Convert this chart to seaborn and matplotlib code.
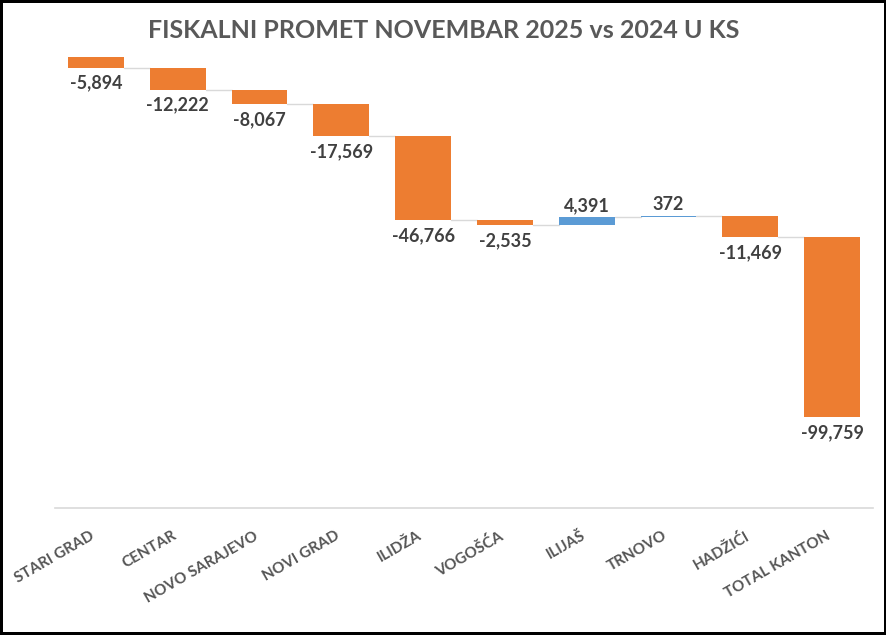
import numpy as np
import matplotlib.pyplot as plt
import matplotlib.transforms as mtransforms
import seaborn as sns

# Data: change vs previous year per municipality (waterfall)
categories = ['STARI GRAD', 'CENTAR', 'NOVO SARAJEVO', 'NOVI GRAD', 'ILIDŽA',
              'VOGOŠĆA', 'ILIJAŠ', 'TRNOVO', 'HADŽIĆI', 'TOTAL KANTON']
deltas = [-5894, -12222, -8067, -17569, -46766, -2535, 4391, 372, -11469, -99759]
value_labels = ['-5,894', '-12,222', '-8,067', '-17,569', '-46,766',
                '-2,535', '4,391', '372', '-11,469', '-99,759']

ORANGE = '#ED7D31'
BLUE = '#5B9BD5'
TEXT = '#404040'
GRID = '#D9D9D9'

sns.set_theme(style='white')
plt.rcParams['font.family'] = ['Lato', 'DejaVu Sans']

deltas = np.array(deltas)
ends = np.cumsum(deltas)
starts = ends - deltas
colors = [BLUE if d > 0 else ORANGE for d in deltas]

fig = plt.figure(figsize=(8.87, 6.35), dpi=100)
fig.patch.set_edgecolor('black')
fig.patch.set_linewidth(4)
ax = fig.add_axes([55 / 887, 127 / 635, 818 / 887, 451 / 635])

sns.barplot(x=categories, y=deltas, hue=categories, palette=colors,
            legend=False, width=0.68, saturation=1, ax=ax)

# shift each bar so it floats from its running start
for patch, s in zip(ax.patches, starts):
    patch.set_y(s)
    patch.set_linewidth(0)

# connector lines between bars
w = 0.68
for i in range(len(categories) - 1):
    ax.plot([i + w / 2, i + 1 - w / 2], [ends[i], ends[i]], color=GRID, lw=1, zorder=0)

# value labels
for i, (d, e) in enumerate(zip(deltas, ends)):
    up = d > 0
    ax.annotate(value_labels[i], (i, e), xytext=(0, 2 if up else -5),
                textcoords='offset points', ha='center',
                va='bottom' if up else 'top',
                fontsize=13, fontweight='bold', color=TEXT)

ax.set_ylim(-250000, 0)
ax.set_xlim(-0.5, len(categories) - 0.5)
ax.set_yticks([])
ax.set_xlabel('')
ax.set_ylabel('')
for side in ['top', 'left', 'right']:
    ax.spines[side].set_visible(False)
ax.spines['bottom'].set_color(GRID)
ax.spines['bottom'].set_linewidth(1.2)
ax.tick_params(axis='x', length=0, pad=15)
shift = mtransforms.ScaledTranslation(-6 / 100, 0, fig.dpi_scale_trans)
for lbl in ax.get_xticklabels():
    lbl.set_rotation(30)
    lbl.set_ha('right')
    lbl.set_rotation_mode('anchor')
    lbl.set_fontsize(11)
    lbl.set_fontweight('bold')
    lbl.set_color('#555555')
    lbl.set_transform(lbl.get_transform() + shift)

fig.text(0.5, 1 - 30 / 635, 'FISKALNI PROMET NOVEMBAR 2025 vs 2024 U KS',
         ha='center', va='center', fontsize=18, fontweight='bold', color='#595959')

fig.savefig('out.png', dpi=100, edgecolor=fig.get_edgecolor())
